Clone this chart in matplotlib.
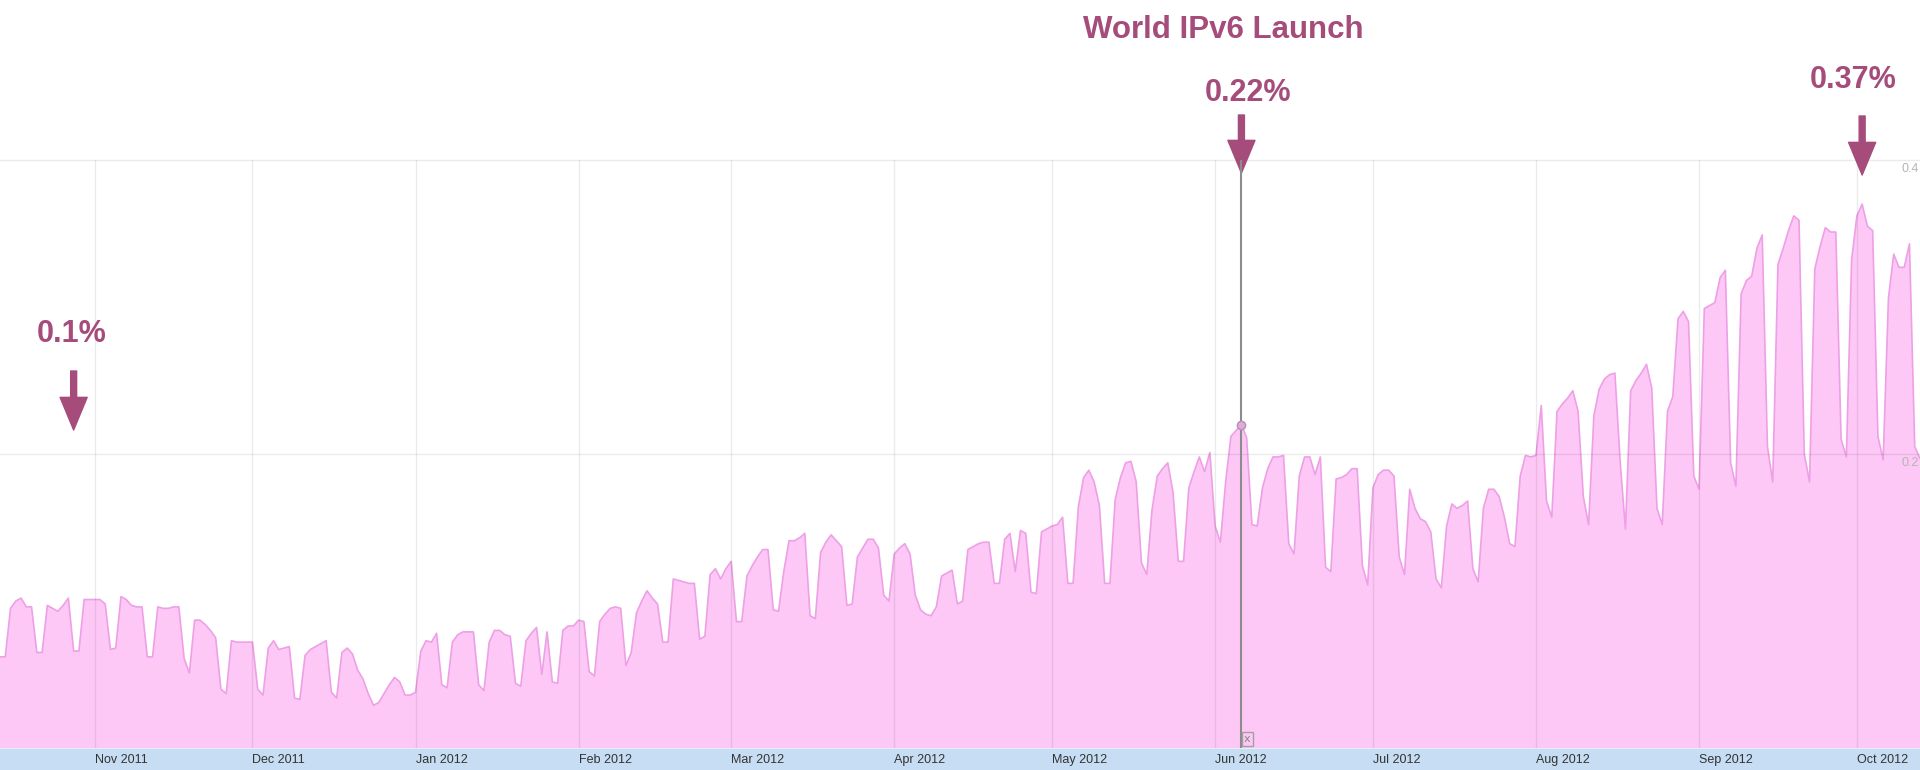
import matplotlib.pyplot as plt
import matplotlib.dates as mdates
from matplotlib import font_manager
import pandas as pd

# daily IPv6 share (%), starting 14 Oct 2011 (one row per week)
ipv6_pct = [
    0.062, 0.062, 0.095, 0.100, 0.102, 0.096, 0.096,
    0.065, 0.065, 0.097, 0.095, 0.093, 0.097, 0.102,
    0.066, 0.066, 0.101, 0.101, 0.101, 0.101, 0.098,
    0.067, 0.068, 0.103, 0.101, 0.097, 0.096, 0.096,
    0.062, 0.062, 0.096, 0.095, 0.095, 0.096, 0.096,
    0.061, 0.051, 0.087, 0.087, 0.084, 0.080, 0.075,
    0.040, 0.037, 0.073, 0.072, 0.072, 0.072, 0.072,
    0.040, 0.036, 0.068, 0.073, 0.067, 0.068, 0.069,
    0.034, 0.033, 0.063, 0.067, 0.069, 0.071, 0.073,
    0.038, 0.034, 0.065, 0.068, 0.064, 0.053, 0.047,
    0.037, 0.029, 0.031, 0.037, 0.043, 0.048, 0.045,
    0.036, 0.036, 0.038, 0.066, 0.073, 0.072, 0.078,
    0.043, 0.041, 0.072, 0.077, 0.079, 0.079, 0.079,
    0.043, 0.039, 0.072, 0.080, 0.080, 0.077, 0.076,
    0.044, 0.042, 0.073, 0.078, 0.082, 0.050, 0.079,
    0.045, 0.044, 0.080, 0.083, 0.083, 0.087, 0.086,
    0.052, 0.049, 0.086, 0.091, 0.095, 0.096, 0.095,
    0.056, 0.065, 0.092, 0.100, 0.107, 0.102, 0.098,
    0.072, 0.072, 0.115, 0.114, 0.113, 0.112, 0.112,
    0.074, 0.076, 0.118, 0.122, 0.115, 0.122, 0.127,
    0.086, 0.086, 0.117, 0.124, 0.130, 0.135, 0.135,
    0.094, 0.093, 0.120, 0.141, 0.141, 0.143, 0.146,
    0.090, 0.088, 0.133, 0.140, 0.145, 0.141, 0.137,
    0.097, 0.098, 0.130, 0.136, 0.142, 0.142, 0.136,
    0.104, 0.100, 0.132, 0.136, 0.139, 0.132, 0.104,
    0.094, 0.091, 0.090, 0.096, 0.117, 0.119, 0.121,
    0.098, 0.100, 0.135, 0.137, 0.139, 0.140, 0.140,
    0.112, 0.112, 0.142, 0.146, 0.120, 0.148, 0.146,
    0.106, 0.105, 0.147, 0.149, 0.151, 0.152, 0.157,
    0.112, 0.112, 0.164, 0.184, 0.189, 0.181, 0.165,
    0.112, 0.112, 0.169, 0.184, 0.194, 0.195, 0.181,
    0.126, 0.118, 0.162, 0.185, 0.190, 0.194, 0.174,
    0.127, 0.127, 0.177, 0.188, 0.198, 0.188, 0.201,
    0.151, 0.140, 0.181, 0.212, 0.216, 0.220, 0.211,
    0.152, 0.151, 0.177, 0.190, 0.198, 0.198, 0.199,
    0.139, 0.132, 0.185, 0.198, 0.198, 0.186, 0.198,
    0.123, 0.120, 0.183, 0.184, 0.186, 0.190, 0.190,
    0.124, 0.111, 0.177, 0.186, 0.189, 0.189, 0.185,
    0.130, 0.118, 0.176, 0.163, 0.156, 0.154, 0.147,
    0.115, 0.109, 0.151, 0.166, 0.163, 0.165, 0.168,
    0.122, 0.113, 0.163, 0.176, 0.176, 0.171, 0.157,
    0.139, 0.137, 0.185, 0.199, 0.198, 0.199, 0.233,
    0.168, 0.157, 0.229, 0.234, 0.238, 0.243, 0.229,
    0.171, 0.152, 0.226, 0.244, 0.251, 0.254, 0.255,
    0.195, 0.149, 0.243, 0.250, 0.255, 0.261, 0.245,
    0.163, 0.152, 0.229, 0.239, 0.292, 0.297, 0.290,
    0.185, 0.176, 0.299, 0.301, 0.303, 0.320, 0.325,
    0.194, 0.178, 0.309, 0.318, 0.321, 0.340, 0.349,
    0.205, 0.181, 0.329, 0.340, 0.352, 0.362, 0.359,
    0.200, 0.181, 0.326, 0.341, 0.354, 0.351, 0.351,
    0.210, 0.198, 0.332, 0.362, 0.370, 0.355, 0.352,
    0.212, 0.196, 0.306, 0.336, 0.327, 0.327, 0.343,
    0.205, 0.197,
]
dates = pd.date_range('2011-10-14', periods=len(ipv6_pct), freq='D')

month_ticks = pd.date_range('2011-11-01', '2012-10-01', freq='MS')
month_labels = [m.strftime('%b %Y') for m in month_ticks]
y_ticks = [0.2, 0.4]
y_labels = ['0.2', '0.4']

launch_day = pd.Timestamp('2012-06-06')
callout_labels = ['0.1%', '0.22%', '0.37%']
callout_dates = ['2011-10-28', '2012-06-06', '2012-10-02']

accent = '#a54c7b'
fill_col = '#fdc8f6'
line_col = '#eea0e6'

# narrow font for the month strip if one is around
installed = {f.name for f in font_manager.fontManager.ttflist}
narrow = [n for n in ['Liberation Sans Narrow', 'DejaVu Sans Condensed'] if n in installed]
if narrow:
    strip_font, strip_size = [narrow[0], 'DejaVu Sans'], 10.5
else:
    strip_font, strip_size = ['Liberation Sans', 'DejaVu Sans'], 9

W, H = 1920, 770
fig = plt.figure(figsize=(W / 100, H / 100), dpi=100)
fig.patch.set_facecolor('white')

ax = fig.add_axes([0, 22 / H, 1, 588 / H])
ax.fill_between(dates, ipv6_pct, 0, color=fill_col, lw=0, zorder=1)
ax.plot(dates, ipv6_pct, color=line_col, lw=1.2, zorder=2)
ax.set_xlim(dates[0], dates[0] + pd.Timedelta(days=365))
ax.set_ylim(0, 0.4)
ax.set_xticks([])
ax.set_yticks([])
for s in ax.spines.values():
    s.set_visible(False)

for m in month_ticks:
    ax.axvline(m, color='black', alpha=0.08, lw=1, zorder=3)
for yt, yl in zip(y_ticks, y_labels):
    ax.axhline(yt, color='black', alpha=0.08, lw=1, zorder=3, clip_on=False)
    ax.annotate(yl, xy=(1, yt), xycoords=('axes fraction', 'data'),
                xytext=(-19, -3), textcoords='offset pixels', ha='left', va='top',
                color='#b5b5b5', fontsize=9, family=['Liberation Sans', 'DejaVu Sans'],
                annotation_clip=False)

# launch day marker line, point and little close box
ax.axvline(launch_day, color='#8c8c8c', lw=1.5, zorder=4)
launch_val = ipv6_pct[dates.get_loc(launch_day)]
ax.plot(launch_day, launch_val, 'o', ms=6, mfc='#e2aadb', mec='#b890b0', zorder=5)
ax.annotate('x', xy=(mdates.date2num(launch_day), 0), xytext=(6, 9),
            textcoords='offset pixels', ha='center', va='center', fontsize=8,
            color='#888888', zorder=5,
            bbox=dict(boxstyle='square,pad=0.2', fc='none', ec='#a0a0a0', lw=1))

# callouts: text baseline / arrow tail / arrow tip in pixels from the top
text_base = [342, 101, 88]
text_dx = [-2, 7, -9]
arrow_tail = [371, 115, 116]
arrow_tip = [430, 173, 175]
for lab, d, tb, dx, at, ap in zip(callout_labels, callout_dates, text_base,
                                  text_dx, arrow_tail, arrow_tip):
    xd = mdates.date2num(pd.Timestamp(d))
    ax.annotate('', xy=(xd, H - ap), xycoords=('data', 'figure pixels'),
                xytext=(xd, H - at), textcoords=('data', 'figure pixels'),
                arrowprops=dict(width=4.3, headwidth=19.5, headlength=23.5,
                                facecolor=accent, edgecolor=accent, shrink=0),
                annotation_clip=False)
    ax.annotate(lab, xy=(xd, H - tb), xycoords=('data', 'figure pixels'),
                xytext=(dx, 0), textcoords='offset pixels', ha='center',
                va='baseline', fontsize=22, fontweight='bold', color=accent,
                family=['Liberation Sans', 'DejaVu Sans'], annotation_clip=False)

fig.text(1223 / W, 1 - 38 / H, 'World IPv6 Launch', ha='center', va='baseline',
         fontsize=22.5, fontweight='bold', color=accent,
         family=['Liberation Sans', 'DejaVu Sans'])

# month strip at the bottom
axs = fig.add_axes([0, 0, 1, 22 / H], sharex=ax)
axs.set_facecolor('#c6ddf3')
axs.set_ylim(0, 1)
axs.set_yticks([])
axs.tick_params(axis='x', bottom=False, labelbottom=False)
for s in axs.spines.values():
    s.set_visible(False)
axs.axhline(1, color='#e6eef8', lw=1.5)
for m, lab in zip(month_ticks, month_labels):
    axs.text(m, 0.45, lab, ha='left', va='center', fontsize=strip_size,
             color='#333333', family=strip_font)

fig.savefig('out.png', dpi=100)
